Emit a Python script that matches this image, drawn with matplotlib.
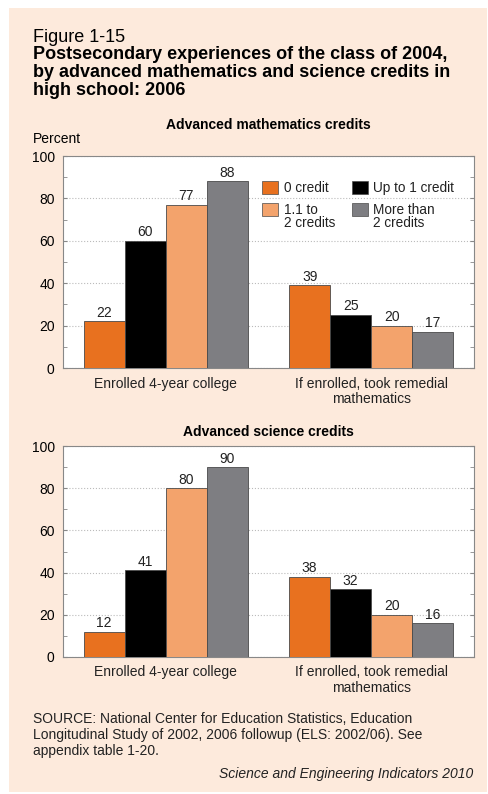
import numpy as np
import matplotlib.pyplot as plt
from matplotlib.patches import Rectangle
from matplotlib.ticker import MultipleLocator
from matplotlib.transforms import blended_transform_factory

plt.rcParams['font.family'] = ['Liberation Sans', 'DejaVu Sans']

categories = ["Enrolled 4-year college", "If enrolled, took remedial\nmathematics"]
credit_groups = ["0 credit", "Up to 1 credit", "1.1 to\n2 credits", "More than\n2 credits"]
math_values = [[22, 39], [60, 25], [77, 20], [88, 17]]
science_values = [[12, 38], [41, 32], [80, 20], [90, 16]]
panel_titles = ["Advanced mathematics credits", "Advanced science credits"]
yticks = [0, 20, 40, 60, 80, 100]
title_lines = ["Postsecondary experiences of the class of 2004,",
               "by advanced mathematics and science credits in",
               "high school: 2006"]
source_lines = ["SOURCE: National Center for Education Statistics, Education",
                "Longitudinal Study of 2002, 2006 followup (ELS: 2002/06). See",
                "appendix table 1-20."]

colors = ["#E8711F", "#000000", "#F3A36C", "#7E7E82"]
bg = "#FDEADC"
W, H = 488, 794
FS = 10

fig = plt.figure(figsize=(W / 100, H / 100), dpi=100)
fig.patch.set_facecolor("white")
fig.patches.append(Rectangle((9 / W, 2 / H), 478 / W, 784 / H,
                             transform=fig.transFigure, facecolor=bg,
                             edgecolor="none", zorder=-10))


def ftext(x, y, s, **kw):
    # place text by pixel position measured from the top-left corner
    fig.text(x / W, 1 - y / H, s, va="baseline", **kw)


def lines_at(ax, xy, text, step_px, transform, **kw):
    # multi-line label, first baseline at xy, fixed pixel step between lines
    for i, line in enumerate(text.split("\n")):
        ax.annotate(line, xy, xycoords=transform,
                    xytext=(0, -i * step_px * 0.72),
                    textcoords="offset points", va="baseline", **kw)


ftext(33, 41.7, "Figure 1-15", fontsize=13)
for i, line in enumerate(title_lines):
    ftext(33, 59.3 + i * 17.8, line, fontsize=13, fontweight="bold")


def draw_panel(ax, values, title, title_gap, show_legend):
    x = np.arange(len(categories))
    width = 0.2
    for i, (vals, col) in enumerate(zip(values, colors)):
        pos = x - 0.3 + i * width
        ax.bar(pos, vals, width, color=col, edgecolor="#4a4a4a",
               linewidth=0.6, zorder=3)
        for px, v in zip(pos, vals):
            ax.annotate(str(v), (px, v), xytext=(0, 3.3),
                        textcoords="offset points", ha="center",
                        va="baseline", fontsize=FS, color="#222222")
    ax.set_xlim(-0.5, 1.5)
    ax.set_ylim(0, 100)
    ax.set_facecolor("white")
    ax.set_yticks(yticks)
    ax.yaxis.set_minor_locator(MultipleLocator(10))
    ax.tick_params(axis="y", which="both", direction="in", length=3,
                   left=True, right=True, labelsize=FS, color="#888888",
                   pad=6)
    ax.set_xticks([])
    trans = blended_transform_factory(ax.transData, ax.transAxes)
    for xi, cat in zip(x, categories):
        lines_at(ax, (xi, -19.5 / 212), cat, 15.5, trans, ha="center",
                 fontsize=FS, color="#222222")
    ax.grid(axis="y", which="major", linestyle=":", color="#bbbbbb",
            linewidth=0.8, zorder=0)
    for s in ax.spines.values():
        s.set_color("#888888")
        s.set_linewidth(0.8)
    ax.text(0.5, 1 + title_gap / 212, title, transform=ax.transAxes,
            ha="center", va="baseline", fontsize=FS, fontweight="bold")

    if show_legend:
        # two columns of swatches in axes coordinates
        cols_x = [0.4835, 0.7024]
        rows_top = [0.883, 0.780]
        order = [(0, 0), (1, 0), (0, 1), (1, 1)]
        for (c, r), col, lab in zip(order, colors, credit_groups):
            ax.add_patch(Rectangle((cols_x[c], rows_top[r] - 0.064), 0.039,
                                   0.064, transform=ax.transAxes,
                                   facecolor=col, edgecolor="#4a4a4a",
                                   linewidth=0.5, zorder=5))
            lines_at(ax, (cols_x[c] + 0.053, rows_top[r] - 0.052), lab,
                     13, ax.transAxes, ha="left", fontsize=9.8,
                     color="#222222", zorder=5)


ax1 = fig.add_axes([63 / W, 1 - 368 / H, 411 / W, 212 / H])
draw_panel(ax1, math_values, panel_titles[0], 27, True)
ftext(33, 142.7, "Percent", fontsize=FS)

ax2 = fig.add_axes([63 / W, 1 - 657 / H, 411 / W, 211 / H])
draw_panel(ax2, science_values, panel_titles[1], 10.5, False)

for i, line in enumerate(source_lines):
    ftext(33, 723.3 + i * 15.9, line, fontsize=FS, color="#222222")
ftext(473, 778, "Science and Engineering Indicators 2010", fontsize=FS,
      style="italic", ha="right", color="#222222")

fig.savefig("out.png", dpi=100, facecolor=fig.get_facecolor())
